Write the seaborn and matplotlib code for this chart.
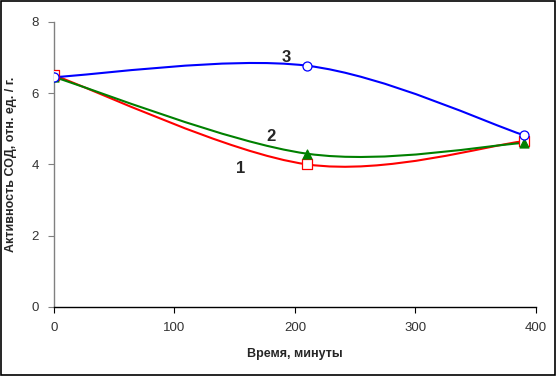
import matplotlib as mpl
mpl.use('Agg')
import matplotlib.pyplot as plt
from matplotlib.path import Path
from matplotlib.patches import PathPatch, Rectangle
import seaborn as sns
import numpy as np

# data
time_min = [0, 210, 390]
series_1 = [6.50, 4.00, 4.65]   # red, open squares
series_2 = [6.45, 4.30, 4.60]   # green, filled triangles
series_3 = [6.45, 6.77, 4.82]   # blue, open circles
curve_labels = ['1', '2', '3']
x_ticks = [0, 100, 200, 300, 400]
y_ticks = [0, 2, 4, 6, 8]


def smooth_path(xs, ys):
	'''Excel-like smoothed line: cubic Bezier segments through the points.'''
	pts = np.column_stack([xs, ys]).astype(float)
	ext = np.vstack([pts[0], pts, pts[-1]])
	verts = [pts[0]]
	codes = [Path.MOVETO]
	for i in range(len(pts) - 1):
		p0, p1, p2, p3 = ext[i], ext[i + 1], ext[i + 2], ext[i + 3]
		verts += [p1 + (p2 - p0) / 6, p2 - (p3 - p1) / 6, p2]
		codes += [Path.CURVE4] * 3
	return Path(verts, codes)


sns.set_style('white')
plt.rcParams['font.family'] = ['Liberation Sans', 'DejaVu Sans']

fig = plt.figure(figsize=(5.57, 3.77), dpi=100)
ax = fig.add_axes([0.097, 0.186, 0.865, 0.756])

styles = [
	(series_1, '#ff0000', 's', 'white'),
	(series_2, '#008000', '^', '#008000'),
	(series_3, '#0000ff', 'o', 'white'),
]
for vals, col, mk, face in styles:
	ax.add_patch(PathPatch(smooth_path(time_min, vals), facecolor='none',
		edgecolor=col, lw=1.5, zorder=2))
	sns.scatterplot(x=time_min, y=vals, ax=ax, marker=mk, s=42, color=face,
		edgecolor=col, linewidth=0.9, zorder=3, legend=False)

# curve numbers
for lab, (tx, ty) in zip(curve_labels, [(155, 3.68), (180, 4.58), (193, 6.8)]):
	ax.text(tx, ty, lab, fontsize=12, fontweight='bold', ha='center', va='bottom')

ax.set_xlim(0, 400)
ax.set_ylim(0, 8)
ax.set_xticks(x_ticks)
ax.set_yticks(y_ticks)
ax.tick_params(axis='both', labelsize=9.5, length=4, width=0.8, direction='out',
	colors='#333333', pad=7)
ax.tick_params(axis='x', bottom=True, colors='black', labelcolor='#333333')
ax.tick_params(axis='y', left=True, colors='#808080', labelcolor='#333333')
for s in ['top', 'right']:
	ax.spines[s].set_visible(False)
ax.spines['bottom'].set_color('black')
ax.spines['left'].set_color('#808080')
ax.spines['bottom'].set_linewidth(1.0)
ax.spines['left'].set_linewidth(1.0)

ax.set_xlabel('Время, минуты', fontsize=9, fontweight='bold', labelpad=10)
ax.set_ylabel('Активность СОД, отн. ед. / г.', fontsize=9, fontweight='bold', labelpad=10)

# chart frame
fig.patches.append(Rectangle((0.002, 0.004), 0.994, 0.993, transform=fig.transFigure,
	fill=False, edgecolor='black', linewidth=1.2))

fig.savefig('out.png', dpi=100)
